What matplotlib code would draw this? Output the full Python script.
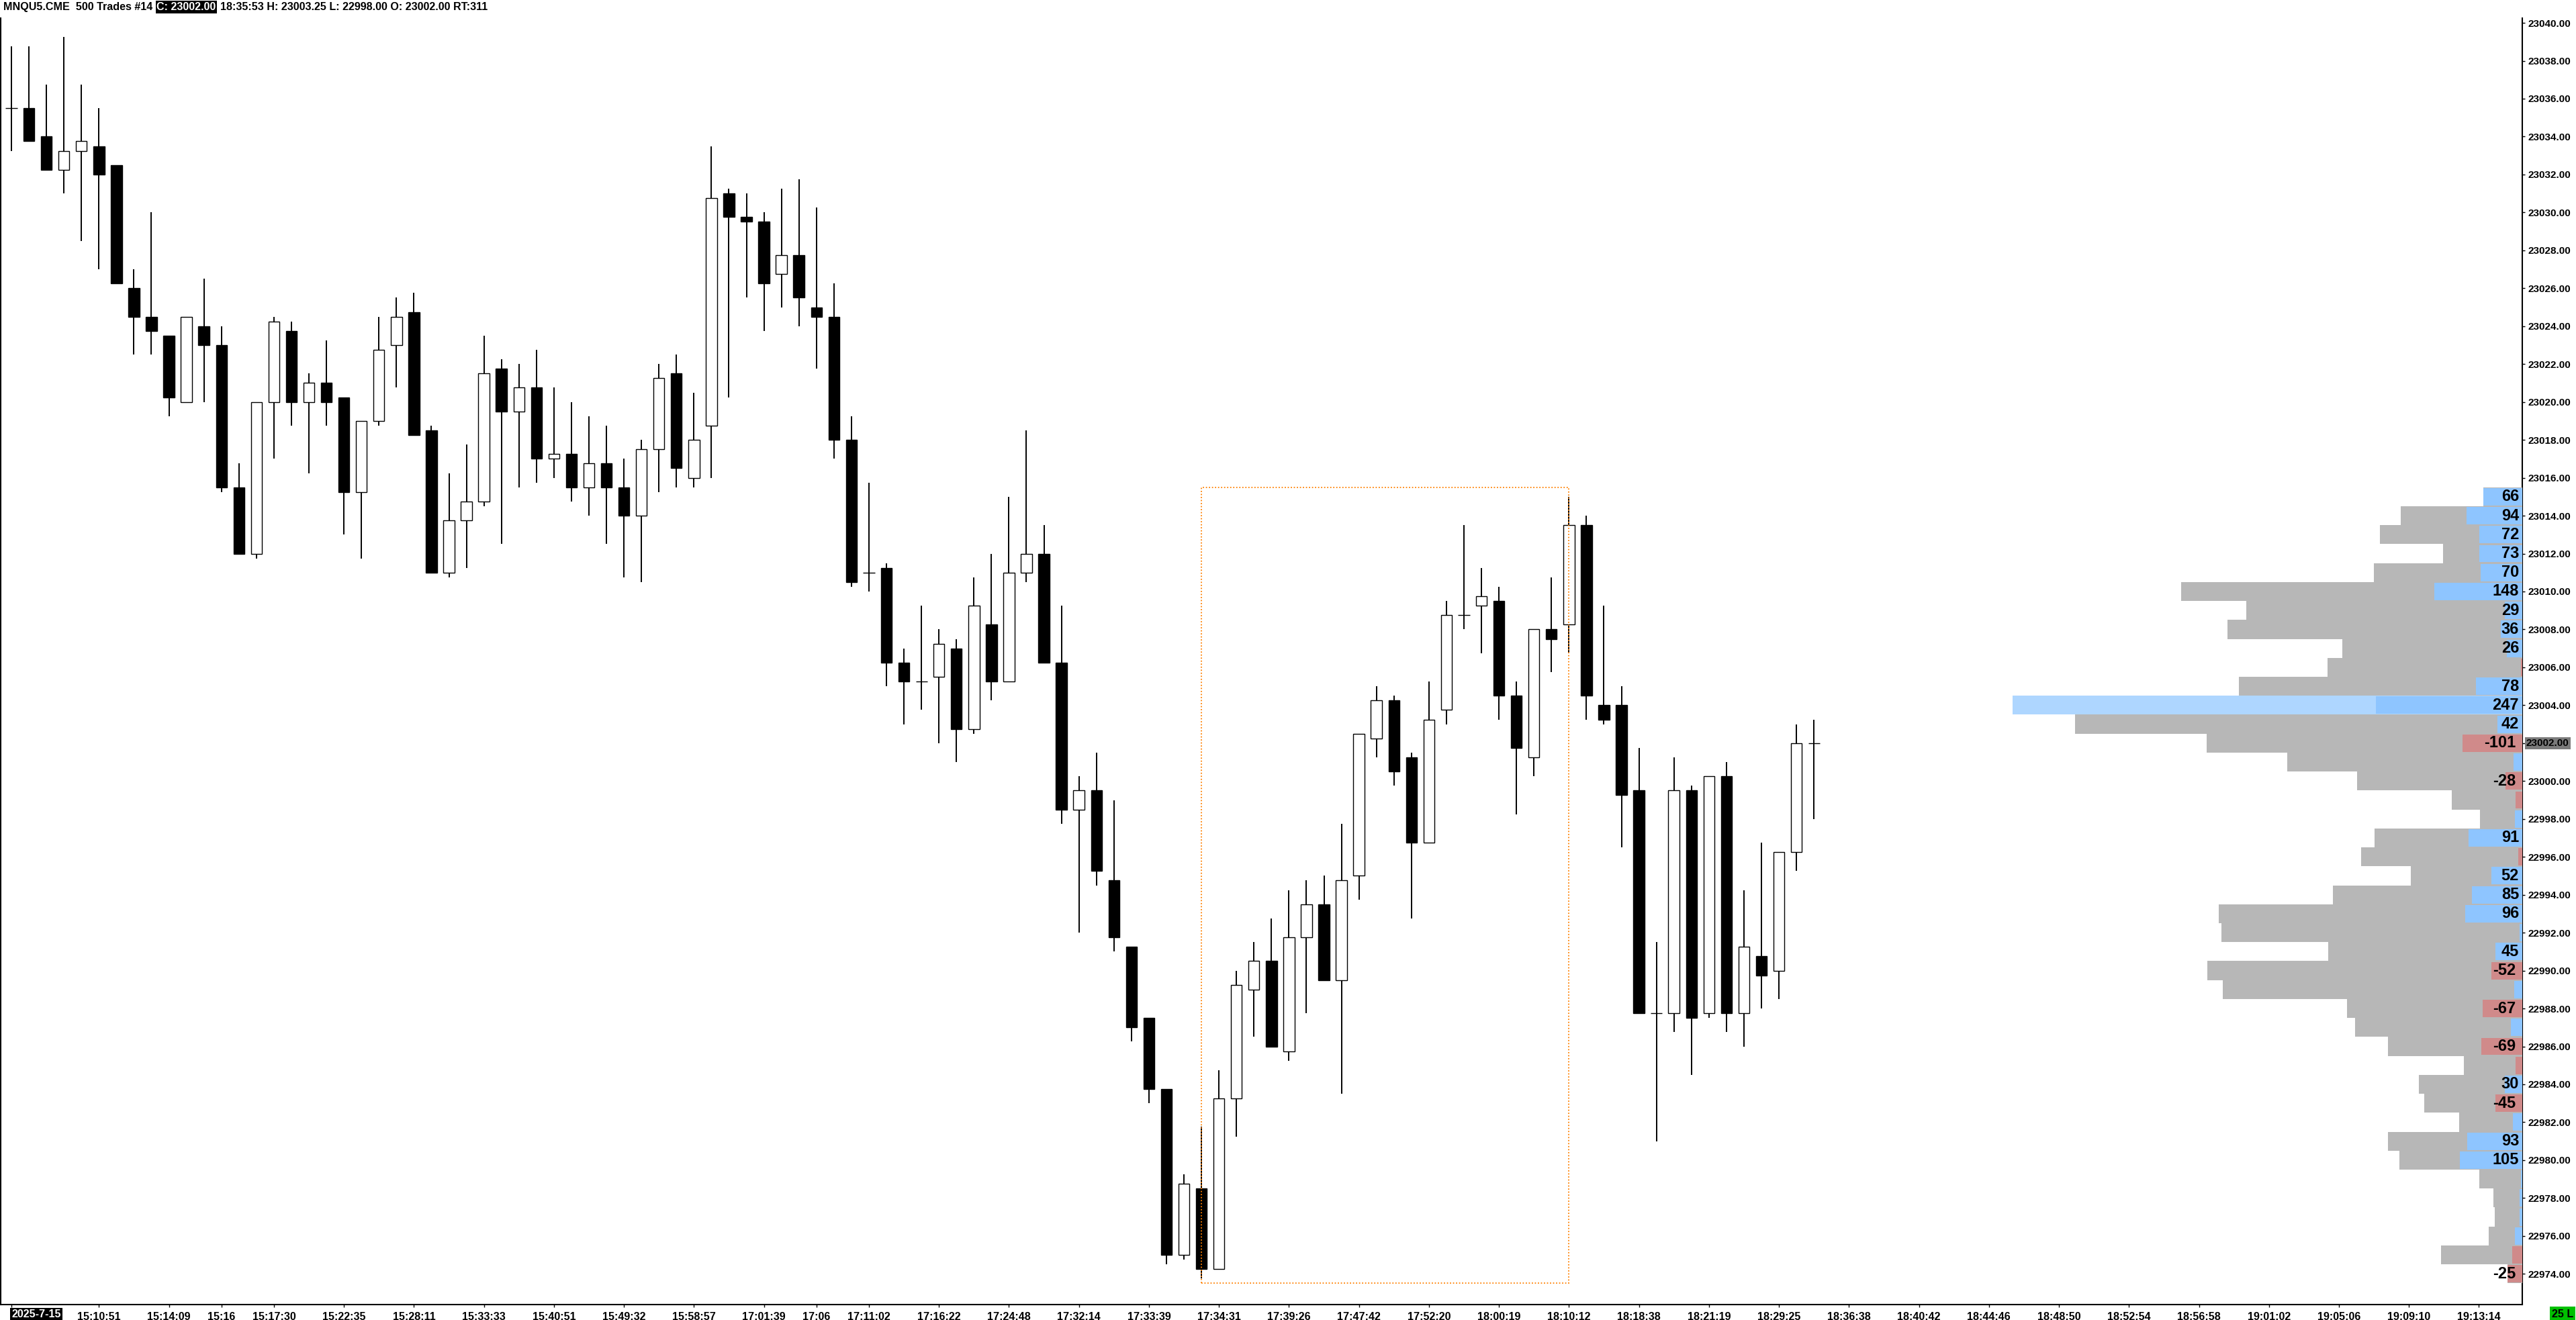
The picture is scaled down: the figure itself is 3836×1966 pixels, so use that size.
import matplotlib
matplotlib.use('Agg')
import matplotlib.pyplot as plt
from matplotlib import font_manager as fm
from matplotlib.patches import Rectangle
import matplotlib.transforms as mtrans

# ---- candles (500 trade bars) ----
opens = [23035.5, 23035.5, 23034, 23032.25, 23033.25, 23033.5, 23032.5, 23026, 23024.5, 23023.5,
         23020, 23024, 23023, 23015.5, 23012, 23020, 23023.75, 23020, 23021, 23020.25,
         23015.25, 23019, 23023, 23024.75, 23018.5, 23011, 23013.75, 23014.75, 23021.75, 23019.5,
         23020.75, 23017, 23017.25, 23015.5, 23016.75, 23015.5, 23014, 23017.5, 23021.5, 23016,
         23018.75, 23031, 23029.75, 23029.5, 23026.75, 23027.75, 23025, 23024.5, 23018, 23011,
         23011.25, 23006.25, 23005.25, 23005.5, 23007, 23002.75, 23008.25, 23005.25, 23011, 23012,
         23006.25, 22998.5, 22999.5, 22994.75, 22991.25, 22987.5, 22983.75, 22975, 22978.5, 22974.25,
         22983.25, 22989, 22990.5, 22985.75, 22991.75, 22993.5, 22989.5, 22995, 23002.25, 23004.25,
         23001.25, 22996.75, 23003.75, 23008.75, 23009.25, 23009.5, 23004.5, 23001.25, 23008, 23008.25,
         23013.5, 23004, 23004, 22999.5, 22987.75, 22987.75, 22999.5, 22987.75, 23000.25, 22987.75,
         22990.75, 22990, 22996.25, 23002]
highs = [23038.75, 23038.75, 23036.75, 23039.25, 23036.75, 23035.5, 23032.5, 23027, 23030, 23023.5,
         23024.5, 23026.5, 23024, 23016.75, 23020, 23024.5, 23024.25, 23021.5, 23023.25, 23020.25,
         23019, 23024.5, 23025.5, 23025.75, 23018.75, 23016.25, 23017.75, 23023.5, 23022.25, 23022,
         23022.75, 23020.75, 23020, 23019.25, 23018.75, 23017, 23018, 23022, 23022.5, 23020.5,
         23033.5, 23031.25, 23031, 23030, 23031.25, 23031.75, 23030.25, 23026.25, 23019.25, 23015.75,
         23011.5, 23007, 23009.25, 23008, 23007.5, 23010.75, 23012, 23015, 23018.5, 23013.5,
         23009.25, 23000.25, 23001.5, 22999, 22991.25, 22987.5, 22983.75, 22979.25, 22981.75, 22984.75,
         22990, 22991.5, 22992.75, 22994.25, 22994.75, 22995, 22997.75, 23002.5, 23005, 23004.5,
         23001.5, 23005.25, 23009.5, 23013.5, 23011.25, 23010.25, 23005.25, 23008, 23010.75, 23015,
         23014, 23009.25, 23005, 23001.75, 22991.5, 23001.25, 22999.75, 23000.25, 23001, 22994.25,
         22996.75, 22996.25, 23003, 23003.25]
lows = [23033.25, 23033.75, 23032.25, 23031, 23028.5, 23027, 23026.25, 23022.5, 23022.5, 23019.25,
        23020, 23020, 23015.25, 23012, 23011.75, 23017, 23018.75, 23016.25, 23018.75, 23013,
        23011.75, 23018.75, 23020.75, 23018.25, 23011, 23010.75, 23011.25, 23014.5, 23012.5, 23015.5,
        23015.75, 23016, 23014.75, 23014, 23012.5, 23010.75, 23010.5, 23015.25, 23015.5, 23015.5,
        23016, 23020.25, 23025.5, 23023.75, 23025, 23024, 23021.75, 23017, 23010.25, 23010,
        23005, 23003, 23003.75, 23002, 23001, 23002.5, 23004.25, 23005.25, 23010.5, 23006.25,
        22997.75, 22992, 22994.5, 22991, 22986.25, 22983, 22974.5, 22974.75, 22973.75, 22974.25,
        22981.25, 22986.5, 22986, 22985.25, 22987.75, 22989.5, 22983.5, 22993.75, 23001.25, 22999.75,
        22992.75, 22996.75, 23003, 23008, 23006.75, 23003.25, 22998.25, 23000.25, 23005.75, 23006.75,
        23003.25, 23003, 22996.5, 22987.75, 22981, 22986.75, 22984.5, 22987.5, 22986.75, 22986,
        22988, 22988.5, 22995.25, 22998]
closes = [23035.5, 23033.75, 23032.25, 23033.25, 23033.75, 23032, 23026.25, 23024.5, 23023.75, 23020.25,
          23024.5, 23023, 23015.5, 23012, 23020, 23024.25, 23020, 23021, 23020, 23015.25,
          23019, 23022.75, 23024.5, 23018.25, 23011, 23013.75, 23014.75, 23021.5, 23019.5, 23020.75,
          23017, 23017.25, 23015.5, 23016.75, 23015.5, 23014, 23017.5, 23021.25, 23016.5, 23018,
          23030.75, 23029.75, 23029.5, 23026.25, 23027.75, 23025.5, 23024.5, 23018, 23010.5, 23011,
          23006.25, 23005.25, 23005.25, 23007.25, 23002.75, 23009.25, 23005.25, 23011, 23012, 23006.25,
          22998.5, 22999.5, 22995.25, 22991.75, 22987, 22983.75, 22975, 22978.75, 22974.25, 22983.25,
          22989.25, 22990.5, 22986, 22991.75, 22993.5, 22989.5, 22994.75, 23002.5, 23004.25, 23000.5,
          22996.75, 23003.25, 23008.75, 23008.75, 23009.75, 23004.5, 23001.75, 23008, 23007.5, 23013.5,
          23004.5, 23003.25, 22999.25, 22987.75, 22987.75, 22999.5, 22987.5, 23000.25, 22987.75, 22991.25,
          22989.75, 22996.25, 23002, 23002]

# ---- volume profile: price rows, total volume, delta ----
vp_price = [23015, 23014, 23013, 23012, 23011, 23010, 23009, 23008, 23007, 23006,
            23005, 23004, 23003, 23002, 23001, 23000, 22999, 22998, 22997, 22996,
            22995, 22994, 22993, 22992, 22991, 22990, 22989, 22988, 22987, 22986,
            22985, 22984, 22983, 22982, 22981, 22980, 22979, 22978, 22977, 22976,
            22975, 22974]
vp_total = [66, 205, 240, 134, 250, 576, 466, 497, 304, 329,
            478, 860, 755, 532, 397, 279, 119, 71, 249, 272,
            188, 320, 512, 508, 328, 531, 505, 296, 282, 227,
            99, 175, 165, 106, 227, 207, 73, 49, 47, 57,
            137, 25]
vp_delta = [66, 94, 72, 73, 70, 148, 29, 36, 26, -2,
            78, 247, 42, -101, 15, -28, -11, 13, 91, -7,
            52, 85, 96, 5, 45, -52, 14, -67, 19, -69,
            -11, 30, -45, 16, 93, 105, 2, 4, 4, 13,
            -17, -25]

# ---- time axis ----
tick_bars = [0, 5, 9, 12, 15, 19, 23, 27, 31, 35, 39, 43, 46, 49, 53, 57, 61, 65, 69, 73,
             77, 81, 85, 89, 93, 97, 101, 105, 109, 113, 117, 121, 125, 129, 133, 137, 141]
tick_labels = ['', '15:10:51', '15:14:09', '15:16', '15:17:30', '15:22:35', '15:28:11', '15:33:33',
               '15:40:51', '15:49:32', '15:58:57', '17:01:39', '17:06', '17:11:02', '17:16:22',
               '17:24:48', '17:32:14', '17:33:39', '17:34:31', '17:39:26', '17:47:42', '17:52:20',
               '18:00:19', '18:10:12', '18:18:38', '18:21:19', '18:29:25', '18:36:38', '18:40:42',
               '18:44:46', '18:48:50', '18:52:54', '18:56:58', '19:01:02', '19:05:06', '19:09:10',
               '19:13:14']
date_label = '2025-7-15'
last_price = 23002.0
rect_bars = (68, 89)
rect_prices = (22973.5, 23015.5)
header = ['MNQU5.CME  500 Trades #14', 'C: 23002.00',
          '18:35:53 H: 23003.25 L: 22998.00 O: 23002.00 RT:311']

# fonts
names = set(f.name for f in fm.fontManager.ttflist)
NARROW = 'Liberation Sans Narrow' if 'Liberation Sans Narrow' in names else 'Liberation Sans'
WIDE = 'Liberation Sans'

W, H, DPI = 3836, 1966, 100
fig = plt.figure(figsize=(W / DPI, H / DPI), dpi=DPI, facecolor='white')
renderer = fig.canvas.get_renderer()

# size the narrow font so that the header line is as wide as in the chart (~726 px)
tmp = fig.text(0, 0, '  '.join(header), fontsize=12, fontweight='bold', family=NARROW)
nsize = 12 * 726 / tmp.get_window_extent(renderer).width
tmp.remove()

# layout in pixels
L, R, T, B = 1, 3756, 27, 1943
bar_px, first_px = 26.06, 17
rect = [L / W, 1 - B / H, (R - L) / W, (B - T) / H]
ax = fig.add_axes(rect)
ax.set_xlim((L - first_px) / bar_px, (R - first_px) / bar_px)
ax.set_ylim(22972.38, 23040.25)

# candles
for i in range(len(opens)):
    o, h, l, c = opens[i], highs[i], lows[i], closes[i]
    ax.vlines(i, l, h, color='black', lw=1.4, zorder=1)
    if o == c:
        ax.hlines(o, i - 0.33, i + 0.33, color='black', lw=1.0, zorder=2)
    else:
        fc = 'white' if c > o else 'black'
        ax.bar(i, abs(c - o), bottom=min(o, c), width=0.63, color=fc,
               edgecolor='black', linewidth=1.0, zorder=2)

# orange dotted box
ax.add_patch(Rectangle((rect_bars[0], rect_prices[0]), rect_bars[1] - rect_bars[0],
                       rect_prices[1] - rect_prices[0], fill=False, edgecolor='#ff8000',
                       linestyle=(0, (1, 1.5)), lw=1.3, zorder=3))

# axes styling
ax.spines['top'].set_visible(False)
for s in ['left', 'right', 'bottom']:
    ax.spines[s].set_linewidth(1.5)
ax.yaxis.tick_right()
yt = list(range(22974, 23041, 2))
ax.set_yticks(yt)
ax.set_yticklabels(['' if v == last_price else '%.2f' % v for v in yt],
                   fontsize=11, fontweight='bold', family=WIDE)
ax.tick_params(axis='y', direction='out', length=3, width=1, pad=3)
ax.set_xticks(tick_bars)
ax.set_xticklabels(tick_labels, fontsize=nsize, fontweight='bold', family=NARROW)
ax.tick_params(axis='x', direction='out', length=3, width=1, pad=5)

# current price label
tr = mtrans.blended_transform_factory(ax.transAxes, ax.transData)
ax.annotate('%.2f' % last_price, xy=(1, last_price), xycoords=tr, xytext=(6, 0),
            textcoords='offset pixels', ha='left', va='center', fontsize=11,
            fontweight='bold', family=WIDE, annotation_clip=False,
            bbox=dict(boxstyle='square,pad=0.15', facecolor='#7b7b7b', edgecolor='none'))

# volume profile on its own x scale (contracts)
px_per_contract = 0.8826
ax_vp = fig.add_axes(rect, sharey=ax)
ax_vp.set_xlim((R - L) / px_per_contract, 0)
ax_vp.patch.set_visible(False)
ax_vp.axis('off')
poc = vp_total.index(max(vp_total))
gray = ['#aed6ff' if k == poc else '#b7b7b7' for k in range(len(vp_total))]
ax_vp.barh(vp_price, vp_total, height=1.0, color=gray, linewidth=0, zorder=1)
dcol = ['#8ec5ff' if d > 0 else '#d08a8a' for d in vp_delta]
ax_vp.barh(vp_price, [abs(d) for d in vp_delta], height=0.92, color=dcol, linewidth=0, zorder=2)
for p, d in zip(vp_price, vp_delta):
    if abs(d) >= 20:
        ax_vp.annotate(str(d), xy=(0, p), xytext=(-5 if d > 0 else -10, 0),
                       textcoords='offset pixels', ha='right', va='center',
                       fontsize=17, fontweight='bold', family=WIDE, zorder=3)

# date box and bottom-right marker
fig.text(17 / W, 1 - 1958 / H, date_label, color='white', fontsize=nsize, fontweight='bold',
         family=NARROW, ha='left', va='center',
         bbox=dict(boxstyle='square,pad=0.15', facecolor='black', edgecolor='none'))
fig.text(3800 / W, 1 - 1957 / H, '25 L', color='black', fontsize=nsize, fontweight='bold',
         family=NARROW, ha='left', va='center',
         bbox=dict(boxstyle='square,pad=0.2', facecolor='#00c000', edgecolor='none'))

# header line
x = 5
for k, s in enumerate(header):
    kw = {}
    if k == 1:
        kw['bbox'] = dict(boxstyle='square,pad=0.1', facecolor='black', edgecolor='none')
    t = fig.text(x / W, 1 - 3 / H, s, color='white' if k == 1 else 'black', fontsize=nsize,
                 fontweight='bold', family=NARROW, ha='left', va='top', **kw)
    x = t.get_window_extent(renderer).x1 + 6

fig.savefig('out.png', dpi=DPI, facecolor='white')
